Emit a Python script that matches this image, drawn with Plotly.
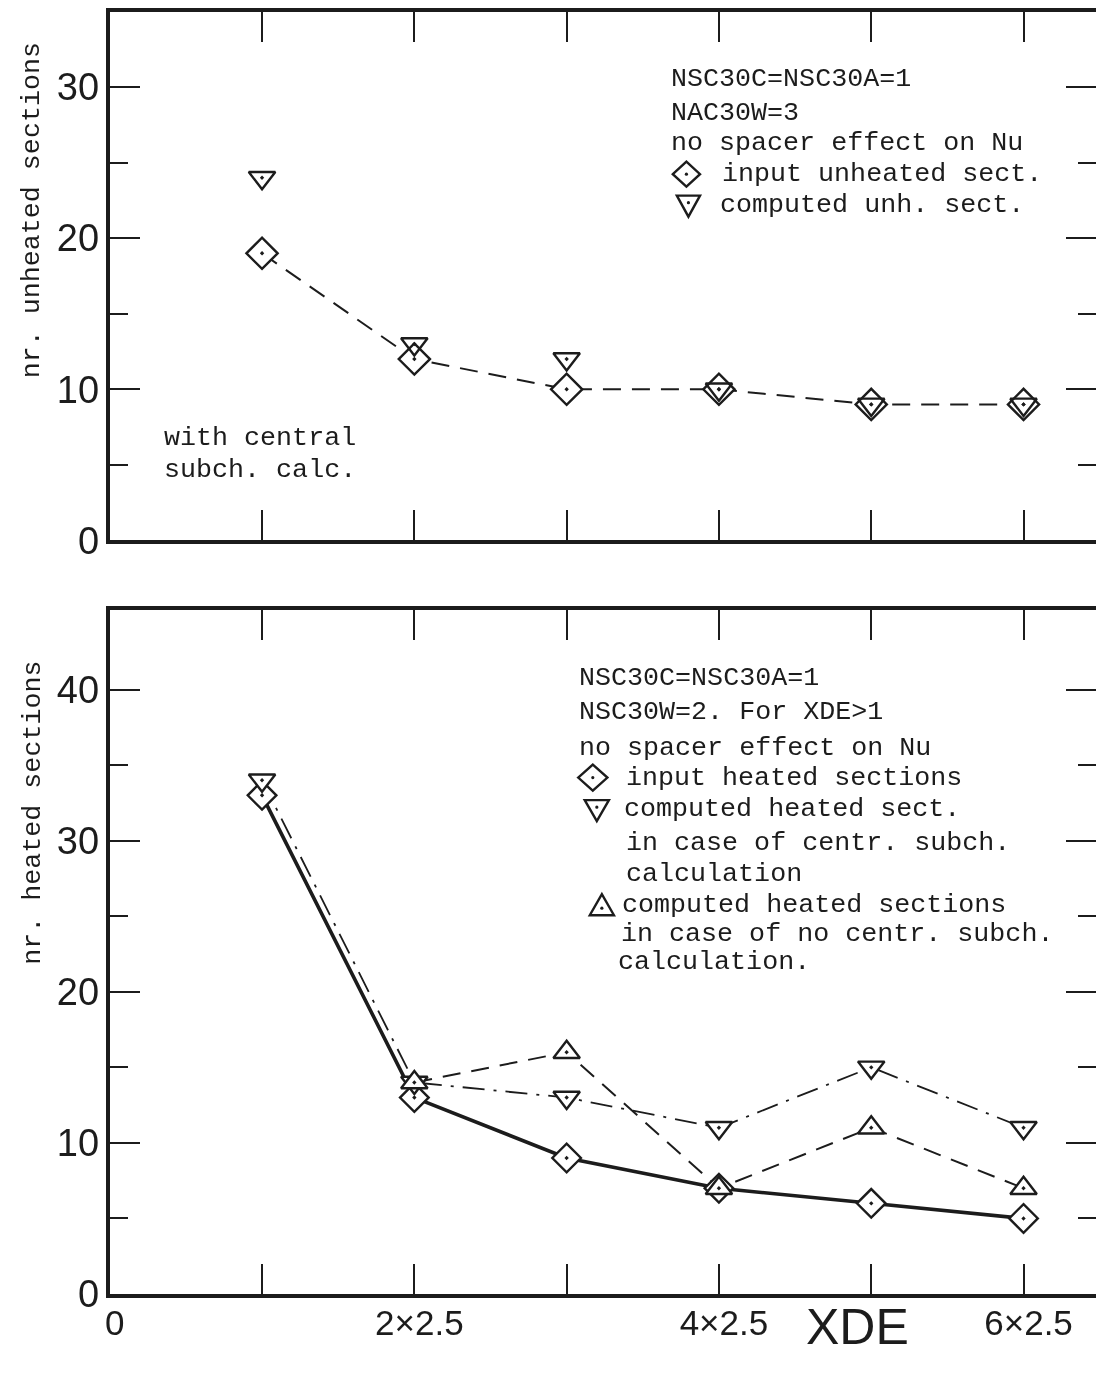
import plotly.graph_objects as go

# ---------------- data ----------------
xde = [2.5, 5, 7.5, 10, 12.5, 15]

# top panel (unheated sections)
unh_input = [19, 12, 10, 10, 9, 9]
unh_computed = [24, 13, 12, 10, 9, 9]

# bottom panel (heated sections)
heat_input = [33, 13, 9, 7, 6, 5]
heat_comp_centr = [34, 14, 13, 11, 15, 11]
xde_nocentr = [5, 7.5, 10, 12.5, 15]
heat_comp_nocentr = [14, 16, 7, 11, 7]

x_tickvals = [0, 2.5, 5, 7.5, 10, 12.5, 15]
x_ticktext = ["0", "", "2×2.5", "", "4×2.5", "", "6×2.5"]
top_major = [0, 10, 20, 30]
top_minor = [5, 15, 25]
bot_major = [0, 10, 20, 30, 40]
bot_minor = [5, 15, 25, 35]

W, H = 1096, 1379
INK = "#1c1c1c"
MONO = "Liberation Mono, DejaVu Sans Mono, monospace"
SANS = "Liberation Sans, Arial, sans-serif"

# screen-to-figure mapping (measured from calibration renders)
SX, OX, SY = 0.989, 8.0, 0.984
def fx(xr):
    return (xr - OX) / SX
def fy(yr):
    return yr / SY

fig = go.Figure()

def mk(symbol, size=24, fill="white"):
    return dict(symbol=symbol, size=size, color=fill,
                line=dict(color=INK, width=2.4))

# top panel
fig.add_trace(go.Scatter(x=xde, y=unh_input, mode="lines+markers",
                         line=dict(color=INK, width=2, dash="18px,11px"),
                         marker=mk("diamond-dot", 24), xaxis="x", yaxis="y",
                         showlegend=False))
fig.add_trace(go.Scatter(x=xde, y=unh_computed, mode="markers",
                         marker=mk("triangle-down-open-dot", 23, INK),
                         xaxis="x", yaxis="y", showlegend=False))

# bottom panel
fig.add_trace(go.Scatter(x=xde_nocentr, y=heat_comp_nocentr, mode="lines",
                         line=dict(color=INK, width=2, dash="18px,11px"),
                         xaxis="x2", yaxis="y2", showlegend=False))
fig.add_trace(go.Scatter(x=xde, y=heat_comp_centr, mode="lines",
                         line=dict(color=INK, width=1.8, dash="22px,9px,3px,9px"),
                         xaxis="x2", yaxis="y2", showlegend=False))
fig.add_trace(go.Scatter(x=xde, y=heat_input, mode="lines+markers",
                         line=dict(color=INK, width=3.6),
                         marker=mk("diamond-dot", 22), xaxis="x2", yaxis="y2",
                         showlegend=False))
fig.add_trace(go.Scatter(x=xde, y=heat_comp_centr, mode="markers",
                         marker=mk("triangle-down-dot", 23),
                         xaxis="x2", yaxis="y2", showlegend=False))
fig.add_trace(go.Scatter(x=xde_nocentr, y=heat_comp_nocentr, mode="markers",
                         marker=mk("triangle-up-dot", 23),
                         xaxis="x2", yaxis="y2", showlegend=False))

# invisible carriers for the right-hand tick axes
fig.add_trace(go.Scatter(x=xde, y=unh_input, mode="markers", opacity=0,
                         xaxis="x", yaxis="y3", showlegend=False, hoverinfo="skip"))
fig.add_trace(go.Scatter(x=xde, y=heat_input, mode="markers", opacity=0,
                         xaxis="x2", yaxis="y4", showlegend=False, hoverinfo="skip"))

# ---------- axes geometry (reference screen px -> figure px) ----------
X_DOM_L_R, X_PPU_R = 112, 60.53
x_dom_l = fx(X_DOM_L_R)
x_range = [-0.001, (W - x_dom_l) / (X_PPU_R / SX)]

Y_PPU_R = 15.1
TOP_BOT_R, TOP_TOP_R = 540, 12
BOT_BOT_R, BOT_TOP_R = 1293, 610

def dom(top_r, bot_r):
    return [1 - fy(bot_r) / H, 1 - fy(top_r) / H]

top_range = [-0.001, (TOP_BOT_R - TOP_TOP_R) / Y_PPU_R]
bot_range = [-0.001, (BOT_BOT_R - BOT_TOP_R) / Y_PPU_R]

common_x = dict(domain=[x_dom_l / W, 1], range=x_range,
                tickvals=x_tickvals, ticktext=x_ticktext,
                ticks="inside", ticklen=30, tickwidth=2, tickcolor=INK,
                showline=True, linewidth=4, linecolor=INK, mirror="ticks",
                showgrid=False, zeroline=False,
                tickfont=dict(family=SANS, size=35, color=INK))

def y_axis(major, minor, rng, dom_, anchor, right=False, overlay=None):
    d = dict(tickvals=major, range=rng, anchor=anchor,
             ticks="inside", ticklen=30, tickwidth=2, tickcolor=INK,
             minor=dict(tickvals=minor, ticks="inside", ticklen=18, tickwidth=2,
                        tickcolor=INK, showgrid=False),
             showgrid=False, zeroline=False)
    if right:
        d.update(side="right", showline=False, showticklabels=False,
                 overlaying=overlay)
    else:
        d.update(domain=dom_, showline=True, linewidth=4, linecolor=INK,
                 mirror=False, ticklabelstandoff=-1,
                 tickfont=dict(family=SANS, size=38, color=INK))
    return d

fig.update_layout(
    width=W, height=H,
    margin=dict(l=0, r=0, t=0, b=0),
    paper_bgcolor="white", plot_bgcolor="white",
    xaxis=dict(common_x, anchor="y", showticklabels=False),
    yaxis=y_axis(top_major, top_minor, top_range, dom(TOP_TOP_R, TOP_BOT_R), "x"),
    yaxis3=y_axis(top_major, top_minor, top_range, None, "x", True, "y"),
    xaxis2=dict(common_x, anchor="y2", showticklabels=True,
                ticklabelstandoff=-5, ticklabelshift=5),
    yaxis2=y_axis(bot_major, bot_minor, bot_range, dom(BOT_TOP_R, BOT_BOT_R), "x2"),
    yaxis4=y_axis(bot_major, bot_minor, bot_range, None, "x2", True, "y2"),
)

def txt(xr, yr, s, size=26.7, family=MONO, angle=0, xanchor="left", pad=4):
    x = fx(xr - pad) if xanchor == "left" else fx(xr)
    fig.add_annotation(x=x / W, y=1 - fy(yr) / H, xref="paper", yref="paper",
                       text=s, showarrow=False, xanchor=xanchor,
                       yanchor="middle", textangle=angle,
                       font=dict(family=family, size=size, color=INK))

def P(xr, yr):
    return f"{fx(xr) / W:.5f},{1 - fy(yr) / H:.5f}"

def glyph(kind, cx, cy, hw, hh):
    if kind == "diamond":
        pts = [(cx - hw, cy), (cx, cy - hh), (cx + hw, cy), (cx, cy + hh)]
        dot_y = cy
    elif kind == "down":
        pts = [(cx - hw, cy - hh), (cx + hw, cy - hh), (cx, cy + hh)]
        dot_y = cy - hh / 3
    else:
        pts = [(cx - hw, cy + hh), (cx + hw, cy + hh), (cx, cy - hh)]
        dot_y = cy + hh / 3
    path = "M " + " L ".join(P(*p) for p in pts) + " Z"
    fig.add_shape(type="path", path=path, xref="paper", yref="paper",
                  line=dict(color=INK, width=2.4), fillcolor="rgba(0,0,0,0)")
    r = 1.6
    fig.add_shape(type="circle", xref="paper", yref="paper",
                  x0=fx(cx - r) / W, x1=fx(cx + r) / W,
                  y0=1 - fy(dot_y + r) / H, y1=1 - fy(dot_y - r) / H,
                  fillcolor=INK, line=dict(width=0))

# axis titles
txt(35, 210, "nr. unheated sections", angle=-90, xanchor="center")
txt(35, 812, "nr. heated sections", angle=-90, xanchor="center")
fig.add_annotation(x=fx(855) / W, y=1 - 1348 / H, xref="paper", yref="paper",
                   text="XDE", showarrow=False, xanchor="center", yanchor="middle",
                   font=dict(family=SANS, size=50, color=INK))

# top panel notes
txt(672, 79, "NSC30C=NSC30A=1")
txt(672, 113, "NAC30W=3")
txt(672, 143, "no spacer effect on Nu")
glyph("diamond", 685, 174, 13.5, 12.5)
txt(722, 174, "input unheated sect.")
glyph("down", 687, 206, 11.5, 10.5)
txt(720, 205, "computed unh. sect.")
txt(168, 438, "with central")
txt(168, 470, "subch. calc.")

# bottom panel notes
txt(580, 677, "NSC30C=NSC30A=1")
txt(580, 711, "NSC30W=2. For XDE>1")
txt(580, 747, "no spacer effect on Nu")
glyph("diamond", 592, 777, 14.5, 13)
txt(627, 777, "input heated sections")
glyph("down", 596, 810, 12, 10.5)
txt(625, 808, "computed heated sect.")
txt(627, 842, "in case of centr. subch.")
txt(627, 873, "calculation")
glyph("up", 601, 904, 12, 10.5)
txt(623, 904, "computed heated sections")
txt(622, 933, "in case of no centr. subch.")
txt(619, 961, "calculation.")

fig.write_html("out.html")
